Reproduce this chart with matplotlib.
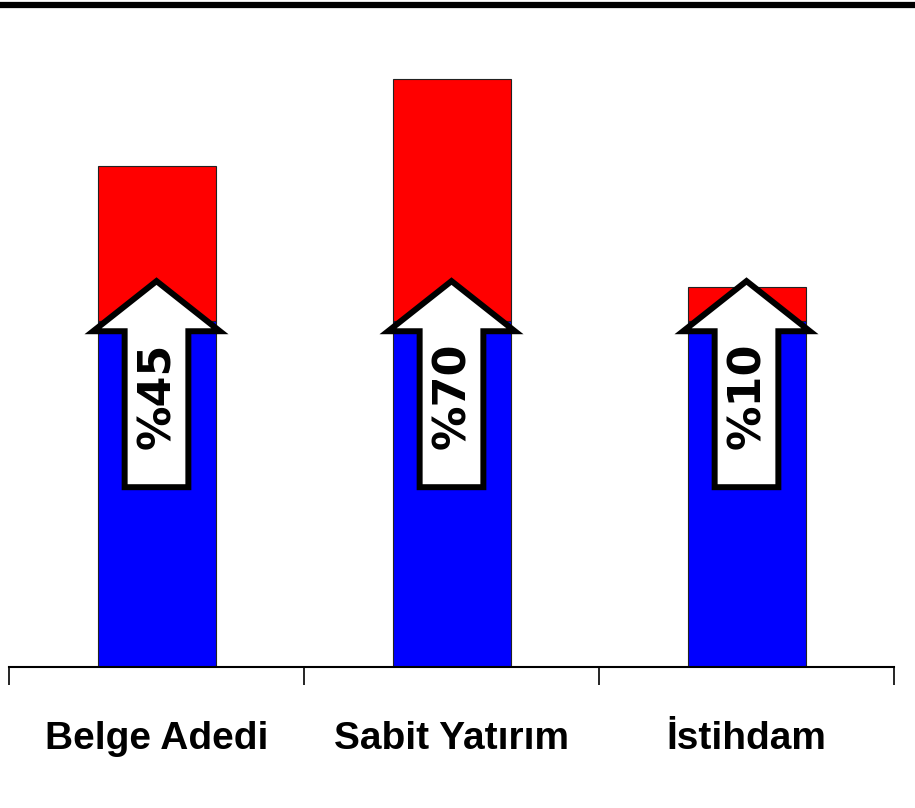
import matplotlib
matplotlib.use("Agg")
import matplotlib.pyplot as plt
from matplotlib.patches import Polygon
from matplotlib.lines import Line2D

categories = ["Belge Adedi", "Sabit Yatırım", "İstihdam"]
base_values = [100, 100, 100]
new_values = [145, 170, 110]
increase_labels = ["%45", "%70", "%10"]

W, H = 915, 808
fig = plt.figure(figsize=(W / 100, H / 100), dpi=100)
ax = fig.add_axes([9 / W, (H - 667) / H, 885 / W, 657 / H])

x = list(range(len(categories)))
bw = 0.4
ax.bar(x, base_values, width=bw, color="#0000ff", edgecolor="#222222", linewidth=0.8, zorder=2)
ax.bar(x, [n - b for n, b in zip(new_values, base_values)], bottom=base_values, width=bw,
       color="#ff0000", edgecolor="#222222", linewidth=0.8, zorder=2)

# arrows
shaft_hw = 0.108
head_hw = 0.215
y0, yb, yt = 52.0, 97.1, 111.6
for xi, lab in zip(x, increase_labels):
    pts = [(xi - shaft_hw, y0), (xi + shaft_hw, y0), (xi + shaft_hw, yb), (xi + head_hw, yb),
           (xi, yt), (xi - head_hw, yb), (xi - shaft_hw, yb)]
    ax.add_patch(Polygon(pts, closed=True, facecolor="white", edgecolor="black",
                         linewidth=4.3, joinstyle="miter", zorder=3))
    ax.text(xi + 0.005, 78.5, lab, rotation=90, ha="center", va="center", fontsize=32,
            fontweight="bold", family="DejaVu Sans", color="black", zorder=4)

ax.set_xlim(-0.5, 2.5)
ax.set_ylim(0, 190)
for s in ["top", "right", "left"]:
    ax.spines[s].set_visible(False)
ax.spines["bottom"].set_linewidth(1.5)
ax.set_yticks([])
ax.set_xticks(x)
ax.set_xticklabels(categories, fontsize=28, fontweight="bold", family="Liberation Sans")
ax.tick_params(axis="x", which="major", length=0, pad=39)
ax.set_xticks([-0.5, 0.5, 1.5, 2.5], minor=True)
ax.tick_params(axis="x", which="minor", length=13, width=1.2, direction="out")

fig.add_artist(Line2D([0, 1], [1 - 5 / H, 1 - 5 / H], transform=fig.transFigure,
                      color="black", linewidth=4.5))

fig.savefig("out.png", dpi=100)
